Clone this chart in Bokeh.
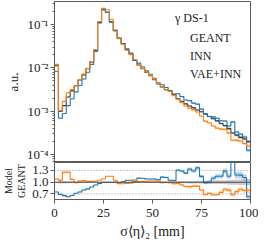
from bokeh.plotting import figure
from bokeh.layouts import column
from bokeh.models import (Range1d, FixedTicker, CustomJSTickFormatter, Span, Legend,
                          LegendItem, ColumnDataSource, NumeralTickFormatter)
from bokeh.embed import file_html
from bokeh.resources import INLINE

# ---------------- data ----------------
bin_edges = list(range(0, 102, 2))  # sigma_<eta>2 [mm]

geant = [0.0112, 0.00100, 0.00135, 0.00214, 0.00295, 0.00389, 0.00525, 0.00692, 0.00955, 0.0138,
         0.0257, 0.112, 0.219, 0.191, 0.115, 0.0724, 0.0490, 0.0363, 0.0263, 0.0209,
         0.0148, 0.0117, 0.00955, 0.00794, 0.00661, 0.00537, 0.00427, 0.00363, 0.00316, 0.00288,
         0.00240, 0.00195, 0.00170, 0.00148, 0.00132, 0.00120, 0.00107, 0.000977, 0.000871, 0.000759,
         0.000676, 0.000603, 0.000525, 0.000468, 0.000398, 0.000316, 0.000282, 0.000251, 0.000229, 0.000200]

inn = [0.0084, 0.00069, 0.00089, 0.00135, 0.00195, 0.00280, 0.00394, 0.00554, 0.00793, 0.0121,
       0.0239, 0.1086, 0.219, 0.191, 0.1139, 0.0724, 0.0480, 0.0367, 0.0276, 0.0219,
       0.0151, 0.0129, 0.0105, 0.00858, 0.00714, 0.00580, 0.00453, 0.00410, 0.00354, 0.00302,
       0.00250, 0.00254, 0.00218, 0.00182, 0.00176, 0.00154, 0.00146, 0.00112, 0.000862, 0.000759,
       0.000744, 0.000693, 0.000604, 0.000599, 0.000458, 0.000569, 0.000333, 0.000296, 0.000256, 0.000126]

vae_inn = [0.0121, 0.00105, 0.00169, 0.00268, 0.00316, 0.00385, 0.00541, 0.00720, 0.00974, 0.0141,
           0.0265, 0.1176, 0.2365, 0.2197, 0.1323, 0.0760, 0.0470, 0.0348, 0.0255, 0.0203,
           0.0157, 0.0119, 0.00974, 0.00810, 0.00681, 0.00553, 0.00440, 0.00359, 0.00313, 0.00285,
           0.00230, 0.00189, 0.00158, 0.00132, 0.00117, 0.00108, 0.000963, 0.000782, 0.000592, 0.000546,
           0.000460, 0.000410, 0.000389, 0.000384, 0.000318, 0.000215, 0.000214, 0.000206, 0.000181, 0.000158]

# relative statistical uncertainty per bin
rel_err = [0.011, 0.036, 0.031, 0.024, 0.021, 0.018, 0.016, 0.014, 0.012, 0.010,
           0.007, 0.003, 0.002, 0.002, 0.003, 0.004, 0.005, 0.006, 0.007, 0.008,
           0.009, 0.010, 0.012, 0.013, 0.014, 0.015, 0.017, 0.019, 0.020, 0.021,
           0.023, 0.026, 0.027, 0.029, 0.031, 0.033, 0.034, 0.036, 0.038, 0.041,
           0.044, 0.046, 0.049, 0.052, 0.057, 0.063, 0.067, 0.071, 0.075, 0.080]

series_names = ["GEANT", "INN", "VAE+INN"]
series_colors = ["#3a3a3a", "#1f77b4", "#ff7f0e"]
legend_colors = ["#8a8a8a", "#8fbbdc", "#ffbb80"]
legend_title = "\u00a0\u00a0\u00a0\u00a0γ DS-1"

x_ticks = [0, 25, 50, 75, 100]
ratio_ticks = [0.7, 1.0, 1.3]

FONT = "Liberation Serif"
TXT = "#222222"
FRAME = "#5a5a5a"

left = bin_edges[:-1]
right = bin_edges[1:]

# ---------------- main panel ----------------
p = figure(width=258, height=162, x_range=Range1d(0, 100), y_range=Range1d(6.6e-5, 0.34),
           y_axis_type="log", output_backend="svg", toolbar_location=None,
           min_border_left=43, min_border_right=8, min_border_top=1, min_border_bottom=0)
p.xaxis.visible = False
p.grid.visible = False
p.outline_line_color = FRAME
p.outline_line_width = 1

minor = [k * 10.0 ** e for e in range(-5, 0) for k in range(2, 10)]
p.yaxis.ticker = FixedTicker(ticks=[1e-4, 1e-3, 1e-2, 1e-1], minor_ticks=minor)
p.yaxis.formatter = CustomJSTickFormatter(code="""
const e = Math.round(Math.log10(tick));
const sup = {'-':'\u207b','0':'\u2070','1':'\u00b9','2':'\u00b2','3':'\u00b3','4':'\u2074',
             '5':'\u2075','6':'\u2076','7':'\u2077','8':'\u2078','9':'\u2079'};
return '10' + String(e).split('').map(c => sup[c]).join('');
""")
p.yaxis.axis_label = "a.u."
for ax in [p.yaxis]:
    ax.axis_label_text_font = FONT
    ax.axis_label_text_font_style = "normal"
    ax.axis_label_text_font_size = "13px"
    ax.axis_label_text_color = TXT
    ax.axis_label_standoff = 3
    ax.major_label_text_font = FONT
    ax.major_label_text_font_size = "13px"
    ax.major_label_text_color = TXT
    ax.major_label_standoff = 2
    ax.axis_line_color = FRAME
    ax.major_tick_line_color = FRAME
    ax.minor_tick_line_color = FRAME
    ax.major_tick_out = 4
    ax.major_tick_in = 0
    ax.minor_tick_out = 2
    ax.minor_tick_in = 0

all_series = [geant, inn, vae_inn]
for vals, col in zip(all_series, series_colors):
    src = ColumnDataSource(dict(left=left, right=right,
                                bottom=[v * (1 - e) for v, e in zip(vals, rel_err)],
                                top=[v * (1 + e) for v, e in zip(vals, rel_err)]))
    p.quad(left="left", right="right", bottom="bottom", top="top", source=src,
           fill_color=col, fill_alpha=0.3, line_color=None)

for vals, col in zip(all_series, series_colors):
    p.step(x=bin_edges, y=list(vals) + [vals[-1]], mode="after", line_color=col, line_width=1.1)

legend_items = []
for name, lc in zip(series_names, legend_colors):
    rr = p.line(x=[], y=[], line_color=lc, line_width=2)
    legend_items.append(LegendItem(label=name, renderers=[rr]))
leg = Legend(items=legend_items, location=(109, 80), title=legend_title)
leg.background_fill_alpha = 0
leg.border_line_color = None
leg.padding = 0
leg.margin = 0
leg.spacing = 3
leg.glyph_width = 15
leg.glyph_height = 14
leg.label_height = 14
leg.label_standoff = 12
leg.label_text_font = FONT
leg.label_text_font_size = "12px"
leg.label_text_color = TXT
leg.title_text_font = FONT
leg.title_text_font_size = "12px"
leg.title_text_font_style = "normal"
leg.title_text_color = TXT
leg.title_standoff = 5
p.add_layout(leg)

# ---------------- ratio panel ----------------
r = figure(width=258, height=80, x_range=p.x_range, y_range=Range1d(0.56, 1.5),
           output_backend="svg", toolbar_location=None,
           min_border_left=43, min_border_right=8, min_border_top=0, min_border_bottom=43)
r.grid.visible = False
r.outline_line_color = FRAME
r.outline_line_width = 1

r.add_layout(Span(location=1.3, dimension="width", line_color="#8a8a8a", line_width=1, line_dash="1 2"))
r.add_layout(Span(location=0.7, dimension="width", line_color="#8a8a8a", line_width=1, line_dash="1 2"))

# GEANT uncertainty band around 1
r.quad(left=left, right=right, bottom=[1 - e for e in rel_err], top=[1 + e for e in rel_err],
       fill_color="#7a7a7a", fill_alpha=0.4, line_color=None)
r.add_layout(Span(location=1.0, dimension="width", line_color="#4a4a4a", line_width=1.1))

for vals, col in zip([inn, vae_inn], series_colors[1:]):
    ratio = [m / g for m, g in zip(vals, geant)]
    r.quad(left=left, right=right,
           bottom=[q * (1 - e) for q, e in zip(ratio, rel_err)],
           top=[q * (1 + e) for q, e in zip(ratio, rel_err)],
           fill_color=col, fill_alpha=0.3, line_color=None)
    r.step(x=bin_edges, y=ratio + [ratio[-1]], mode="after", line_color=col, line_width=1.1)

r.xaxis.ticker = FixedTicker(ticks=x_ticks)
r.yaxis.ticker = FixedTicker(ticks=ratio_ticks)
r.yaxis.formatter = NumeralTickFormatter(format="0.0")
r.xaxis.axis_label = "σ⟨η⟩₂ [mm]"
r.yaxis.axis_label = "Model\nGEANT"
for ax in [r.xaxis[0], r.yaxis[0]]:
    ax.axis_label_text_font = FONT
    ax.axis_label_text_font_style = "normal"
    ax.axis_label_text_color = TXT
    ax.major_label_text_font = FONT
    ax.major_label_text_font_size = "13px"
    ax.major_label_text_color = TXT
    ax.major_label_standoff = 2
    ax.axis_line_color = FRAME
    ax.major_tick_line_color = FRAME
    ax.minor_tick_line_color = None
    ax.major_tick_out = 4
    ax.major_tick_in = 0
r.xaxis.major_label_standoff = 5
r.xaxis.axis_label_text_font_size = "14px"
r.xaxis.axis_label_standoff = 4
r.yaxis.axis_label_text_font_size = "10px"
r.yaxis.axis_label_standoff = 2

layout = column(p, r, spacing=0)
open("out.html", "w").write(file_html(layout, INLINE))
